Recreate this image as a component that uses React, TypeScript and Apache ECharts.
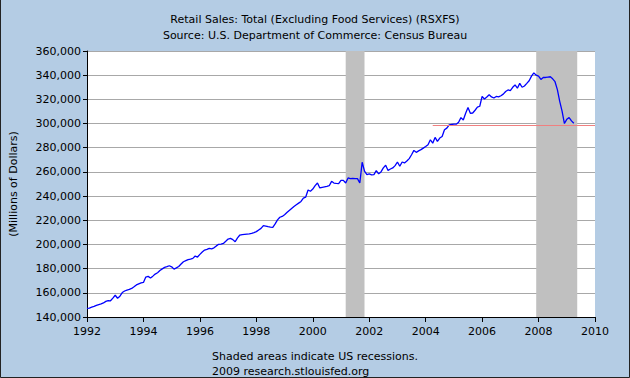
import React, { useEffect, useRef } from "react";
import * as echarts from "echarts";

const startYear = 1992;
const v1992 = [147200, 147400, 148200, 148800, 149600, 150300, 150800, 151600, 152900, 153600, 153400, 155600];
const v1993 = [158000, 155500, 157200, 160200, 161500, 162300, 162800, 163600, 165000, 166500, 167400, 168200];
const v1994 = [168600, 173000, 173600, 172200, 173800, 175500, 176600, 178400, 179800, 181000, 181600, 182400];
const v1995 = [181500, 179600, 180600, 181800, 183800, 185700, 186600, 187500, 187900, 188500, 190400, 189600];
const v1996 = [191800, 193800, 195400, 195900, 196800, 196400, 197200, 198800, 200100, 200300, 200800, 202600];
const v1997 = [204500, 205000, 204000, 202200, 205500, 207800, 208200, 208400, 208600, 208800, 209200, 209800];
const v1998 = [210600, 212000, 213300, 215600, 215200, 214700, 214400, 214200, 217000, 220300, 222500, 223200];
const v1999 = [224600, 226400, 228100, 229800, 231400, 232800, 234200, 235600, 238300, 239200, 245000, 244000];
const v2000 = [245800, 248600, 250800, 246700, 247200, 247600, 248000, 248600, 252200, 250800, 250500, 250300];
const v2001 = [253000, 253000, 250800, 255000, 254400, 254600, 254400, 254400, 250800, 268000, 260600, 257800];
const v2002 = [258400, 257600, 257800, 261000, 258400, 260000, 263300, 265500, 261100, 262400, 263300, 265200];
const v2003 = [268200, 264700, 268200, 267400, 269000, 271000, 274200, 277800, 276200, 277400, 278400, 279700];
const v2004 = [281000, 282500, 286600, 283800, 288500, 285200, 288000, 289300, 294800, 296200, 298900, 299200];
const v2005 = [299500, 299500, 301100, 304900, 303000, 308500, 313200, 308500, 308700, 311000, 313500, 314300];
const v2006 = [322400, 320300, 321900, 323800, 322000, 321100, 322400, 322000, 323000, 324300, 326500, 327800];
const v2007 = [327300, 330000, 331900, 329200, 333200, 330000, 331100, 333200, 335400, 339200, 341900, 340000];
const v2008 = [339200, 336500, 338100, 338100, 338400, 338700, 337000, 334600, 328000, 318400, 310300, 300000];
const v2009 = [303500, 304900, 302200, 300300];

const salesByYear = [v1992, v1993, v1994, v1995, v1996, v1997, v1998, v1999, v2000, v2001, v2002, v2003, v2004, v2005, v2006, v2007, v2008, v2009];

const recessions = [
  [2001 + 2 / 12, 2001 + 10 / 12],
  [2007 + 11 / 12, 2009.37],
];
const refLineValue = 299000;
const refLineStart = 2004.25;
const refLineEnd = 2010;

const titleLines = ["Retail Sales: Total (Excluding Food Services) (RSXFS)", "Source: U.S. Department of Commerce: Census Bureau"];
const footLines = ["Shaded areas indicate US recessions.", "2009 research.stlouisfed.org"];
const yAxisName = "(Millions of Dollars)";

const FONT = "DejaVu Sans, Verdana, sans-serif";

export default function App() {
  const ref = useRef<HTMLDivElement>(null);
  useEffect(() => {
    if (!ref.current) return;
    const chart = echarts.init(ref.current, undefined, { renderer: "svg" });
    const data: [number, number][] = [];
    salesByYear.forEach((arr, y) => {
      arr.forEach((v, m) => data.push([startYear + y + m / 12, v]));
    });
    const fmt = (v: number) => v.toLocaleString("en-US");
    chart.setOption({
      animation: false,
      backgroundColor: "#b4cce4",
      textStyle: { fontFamily: FONT },
      title: {
        text: titleLines.join("\n"),
        left: "center",
        top: 6,
        textStyle: { fontSize: 11, fontWeight: "normal", color: "#000", lineHeight: 16, fontFamily: FONT },
      },
      grid: { left: 81, right: 35, top: 51, bottom: 61, show: true, backgroundColor: "#fff", borderWidth: 0 },
      xAxis: {
        type: "value",
        min: 1992,
        max: 2010,
        interval: 2,
        axisLine: { show: true, onZero: false, lineStyle: { color: "#000", width: 1 } },
        axisTick: { show: true, length: 5, lineStyle: { color: "#000" } },
        axisLabel: { fontSize: 11, color: "#000", margin: 9, formatter: (v: number) => String(v), fontFamily: FONT },
        splitLine: { show: false },
      },
      yAxis: {
        type: "value",
        min: 140000,
        max: 360000,
        interval: 20000,
        name: yAxisName,
        nameLocation: "middle",
        nameGap: 68,
        nameTextStyle: { fontSize: 11, color: "#000", fontFamily: FONT },
        axisLine: { show: true, lineStyle: { color: "#000", width: 1 } },
        axisTick: { show: true, length: 4, lineStyle: { color: "#000" } },
        axisLabel: { fontSize: 11, color: "#000", margin: 6, formatter: fmt, fontFamily: FONT },
        splitLine: { show: true, lineStyle: { color: "#a8a8a8", width: 1 } },
      },
      series: [
        {
          type: "line",
          data: [],
          z: 1,
          silent: true,
          markArea: {
            silent: true,
            itemStyle: { color: "#c0c0c0", opacity: 1 },
            data: recessions.map(([a, b]) => [{ xAxis: a }, { xAxis: b }]),
          },
        },
        {
          type: "line",
          data: data,
          z: 3,
          showSymbol: false,
          symbol: "none",
          lineStyle: { color: "#0000ff", width: 1.3 },
          markLine: {
            silent: true,
            symbol: "none",
            label: { show: false },
            lineStyle: { color: "#f08080", width: 1.2, type: "solid", opacity: 1 },
            data: [[{ coord: [refLineStart, refLineValue] }, { coord: [refLineEnd, refLineValue] }]],
          },
        },
      ],
      graphic: [
        {
          type: "text",
          left: "center",
          top: 349,
          style: { text: footLines.join("\n"), fontSize: 11, fill: "#000", lineHeight: 15, align: "center", fontFamily: FONT },
        },
        {
          type: "polyline",
          shape: { points: [[0.5, 0], [0.5, 377.5], [629.5, 377.5], [629.5, 0]] },
          style: { stroke: "#222", lineWidth: 1, fill: "none" },
        },
      ],
    });
    return () => chart.dispose();
  }, []);
  return <div ref={ref} style={{ position: "fixed", left: 0, top: 0, width: 630, height: 378 }} />;
}
